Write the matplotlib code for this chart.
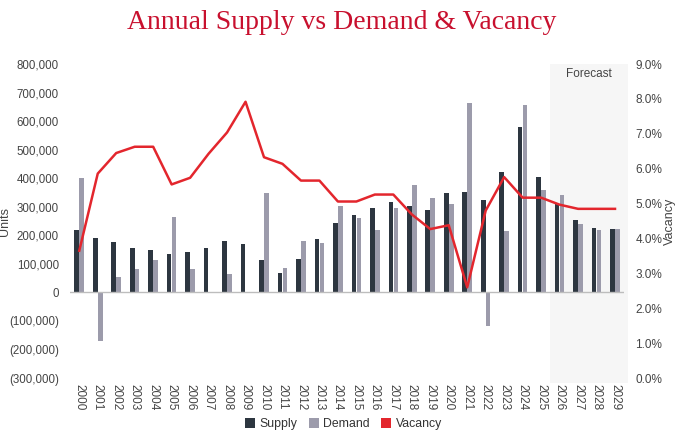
import matplotlib
matplotlib.use("Agg")
import matplotlib.pyplot as plt
from matplotlib.patches import Patch
from matplotlib.ticker import FuncFormatter, MultipleLocator
import matplotlib.transforms as mtransforms
import numpy as np

years = [str(y) for y in range(2000, 2030)]
supply = [218000, 192000, 175000, 154000, 147000, 134000, 143000, 154000, 180000, 168000,
          115000, 67000, 117000, 188000, 244000, 272000, 294000, 315000, 302000, 290000,
          350000, 352000, 324000, 423000, 578000, 403000, 310000, 252000, 226000, 221000]
demand = [400000, -171000, 54000, 83000, 112000, 264000, 81000, -3000, 63000, 2000,
          347000, 86000, 181000, 174000, 303000, 260000, 219000, 294000, 376000, 332000,
          308000, 662000, -119000, 215000, 655000, 360000, 340000, 240000, 218000, 221000]
vacancy = [3.65, 5.86, 6.45, 6.63, 6.63, 5.55, 5.74, 6.43, 7.04, 7.92,
           6.33, 6.14, 5.66, 5.66, 5.06, 5.06, 5.26, 5.26, 4.69, 4.27,
           4.38, 2.60, 4.80, 5.76, 5.17, 5.17, 4.97, 4.85, 4.85, 4.85]
forecast_start = "2026"

SUP_C = "#2d3640"
DEM_C = "#9c9bab"
VAC_C = "#e3262d"
TXT_C = "#444444"

plt.rcParams['font.family'] = ['Liberation Sans', 'DejaVu Sans']

fig = plt.figure(figsize=(6.8, 4.33), dpi=100)
ax = fig.add_axes([0.103, 0.127, 0.815, 0.725])
ax2 = ax.twinx()

x = np.arange(len(years))
w = 0.25
fi = years.index(forecast_start)

trans = mtransforms.blended_transform_factory(ax.transData, ax.transAxes)
ax.add_patch(plt.Rectangle((fi - 0.5, -0.015), len(years) - fi + 0.2, 1.015,
                           transform=trans, facecolor="#f6f6f6", edgecolor="none",
                           clip_on=False, zorder=0))
ax.text((fi - 0.5 + len(years) - 0.5) / 2 + 0.1, 0.97, "Forecast", transform=trans,
        ha="center", va="center", fontsize=8.5, color=TXT_C)

ax.bar(x - 0.135, supply, width=w, color=SUP_C, zorder=2)
ax.bar(x + 0.135, demand, width=w, color=DEM_C, zorder=2)
ax.axhline(0, color="#bdbdbd", lw=1.0, zorder=3)

ax.set_xlim(-0.5, len(years) - 0.5)
ax.set_ylim(-300000, 800000)
ax.yaxis.set_major_locator(MultipleLocator(100000))
ax.yaxis.set_major_formatter(FuncFormatter(
    lambda v, p: "0" if v == 0 else (f"{v:,.0f}" if v > 0 else f"({-v:,.0f})")))
ax.set_xticks(x)
ax.set_xticklabels(years, rotation=-90, fontsize=8.5, color=TXT_C)
ax.tick_params(axis="y", labelsize=8.3, labelcolor=TXT_C, length=0, pad=8)
ax.tick_params(axis="x", length=0, pad=4)
ax.set_ylabel("Units", fontsize=9, color=TXT_C)
ax.yaxis.set_label_coords(-0.107, 0.5)

ax2.plot(x, vacancy, color=VAC_C, lw=1.8, zorder=4)
ax2.set_ylim(0, 9)
ax2.yaxis.set_major_locator(MultipleLocator(1))
ax2.yaxis.set_major_formatter(FuncFormatter(lambda v, p: f"{v:.1f}%"))
ax2.tick_params(axis="y", labelsize=8.5, labelcolor=TXT_C, length=0, pad=8)
ax2.set_ylabel("Vacancy", fontsize=9, color=TXT_C, labelpad=1)

for a in (ax, ax2):
    for s in a.spines.values():
        s.set_visible(False)

fig.text(0.503, 0.948, "Annual Supply vs Demand & Vacancy", ha="center", va="center",
         fontsize=20, color="#c8102e", family=["Liberation Serif", "DejaVu Serif"])

handles = [Patch(facecolor=SUP_C, label="Supply"),
           Patch(facecolor=DEM_C, label="Demand"),
           Patch(facecolor=VAC_C, label="Vacancy")]
fig.legend(handles=handles, loc="center", bbox_to_anchor=(0.505, 0.02), ncol=3,
           frameon=False, fontsize=8.8, handlelength=0.85, handleheight=0.85,
           handletextpad=0.35, columnspacing=0.9, labelcolor="#333333")

fig.savefig("out.png", dpi=100)
